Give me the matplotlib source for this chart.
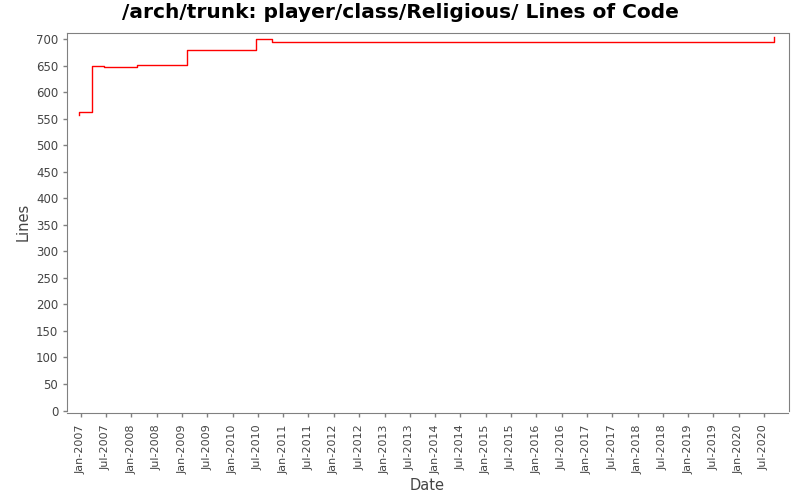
import matplotlib
matplotlib.use("Agg")
import matplotlib.pyplot as plt
import matplotlib.dates as mdates
from datetime import datetime

dates = ["2006-12-19", "2006-12-20", "2007-03-21", "2007-06-16", "2008-02-09",
         "2009-02-05", "2010-06-18", "2010-10-12", "2020-09-11"]
lines = [557, 563, 650, 648, 652, 679, 700, 694, 704]

x = [datetime.strptime(d, "%Y-%m-%d") for d in dates]

fig = plt.figure(figsize=(8, 5), dpi=100)
ax = fig.add_axes([66.5/800, 1-410.5/500, (788.5-66.5)/800, (410.5-33.3)/500])

ax.step(x, lines, where="post", color="#ff0000", linewidth=1.0)

ax.set_xlim(datetime(2006, 9, 19), datetime(2020, 12, 25))
ax.set_ylim(0, 711)
ax.set_yticks(range(0, 701, 50))

ax.xaxis.set_major_locator(mdates.MonthLocator(bymonth=[1, 7]))
ax.xaxis.set_major_formatter(mdates.DateFormatter("%b-%Y"))
ax.tick_params(axis="x", labelrotation=90)

for s in ax.spines.values():
    s.set_color("#808080")
ax.spines["bottom"].set_position(("outward", 2))
ax.tick_params(axis="both", colors="#808080", labelcolor="#444444",
               length=3, width=1)
ax.tick_params(axis="x", labelsize=8, pad=5)
ax.tick_params(axis="y", labelsize=8.5, pad=3)

ax.set_xlabel("Date", fontsize=10.5, color="#444444", labelpad=3)
ax.set_ylabel("Lines", fontsize=10.5, color="#444444", labelpad=4)

fig.suptitle("/arch/trunk: player/class/Religious/ Lines of Code",
             fontsize=14.5, fontweight="bold", y=1-13/500, va="center")

fig.savefig("out.png", dpi=100)
